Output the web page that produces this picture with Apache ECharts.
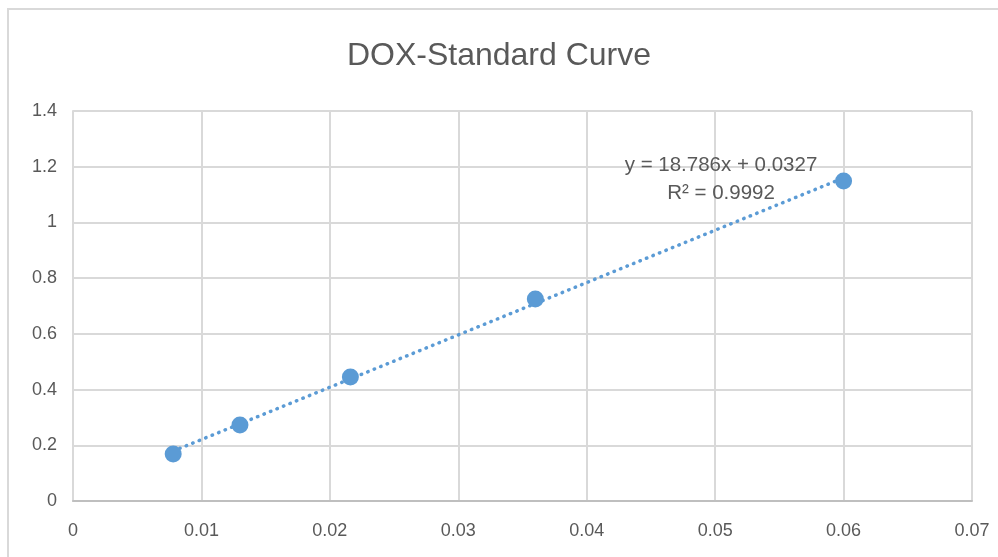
<!DOCTYPE html>
<html>
<head>
<meta charset="utf-8">
<script src="https://cdn.jsdelivr.net/npm/echarts@6/dist/echarts.min.js"></script>
<style>html,body{margin:0;padding:0;background:#fff;}#c{width:998px;height:557px;}</style>
</head>
<body>
<div id="c"></div>
<script>
var xValues = [0.0078, 0.013, 0.0216, 0.036, 0.06];
var yValues = [0.169, 0.273, 0.445, 0.725, 1.149];
var slope = 18.786;
var intercept = 0.0327;
var equationText = 'y = 18.786x + 0.0327';
var r2Text = 'R\u00B2 = 0.9992';
var xTicks = [0, 0.01, 0.02, 0.03, 0.04, 0.05, 0.06, 0.07];
var yTicks = [0, 0.2, 0.4, 0.6, 0.8, 1, 1.2, 1.4];

var points = xValues.map(function (x, i) { return [x, yValues[i]]; });
var xMin = Math.min.apply(null, xValues), xMax = Math.max.apply(null, xValues);
var trend = [[xMin, slope * xMin + intercept], [xMax, slope * xMax + intercept]];

var chart = echarts.init(document.getElementById('c'));
var font = "Liberation Sans, Arial, sans-serif";
chart.setOption({
  backgroundColor: '#fff',
  animation: false,
  title: {
    text: 'DOX-Standard Curve',
    left: 'center', top: 35,
    textStyle: { fontFamily: font, fontSize: 32, fontWeight: 'normal', color: '#595959' }
  },
  grid: { left: 73, right: 26, top: 111, bottom: 56 },
  xAxis: {
    type: 'value', min: 0, max: 0.07, interval: 0.01,
    axisLine: { show: true, lineStyle: { color: '#bfbfbf', width: 2 } },
    axisTick: { show: false },
    splitLine: { show: true, lineStyle: { color: '#d9d9d9', width: 2 } },
    axisLabel: { fontFamily: font, fontSize: 18, color: '#595959', margin: 21,
      formatter: function (v) { return String(+v.toFixed(2)); } }
  },
  yAxis: {
    type: 'value', min: 0, max: 1.4, interval: 0.2,
    axisLine: { show: true, lineStyle: { color: '#d9d9d9', width: 2 } },
    axisTick: { show: false },
    splitLine: { show: true, lineStyle: { color: '#d9d9d9', width: 2 } },
    axisLabel: { fontFamily: font, fontSize: 18, color: '#595959', margin: 16,
      formatter: function (v) { return String(+v.toFixed(1)); } }
  },
  graphic: [
    { type: 'rect', z: -10, silent: true, shape: { x: 8, y: 9, width: 1100, height: 700 },
      style: { fill: 'none', stroke: '#d9d9d9', lineWidth: 2 } },
    { type: 'text', z: 10, style: { x: 721, y: 165, text: equationText, fontFamily: font, fontSize: 20.5, fill: '#595959', textAlign: 'center', textVerticalAlign: 'middle' } },
    { type: 'text', z: 10, style: { x: 721, y: 193, text: r2Text, fontFamily: font, fontSize: 20.5, fill: '#595959', textAlign: 'center', textVerticalAlign: 'middle' } }
  ],
  series: [
    { type: 'line', data: trend, symbol: 'none', z: 2,
      lineStyle: { color: '#5B9BD5', width: 3.5, type: [0.5, 6.5], cap: 'round' } },
    { type: 'scatter', data: points, symbol: 'circle', symbolSize: 17, z: 3,
      itemStyle: { color: '#5B9BD5', opacity: 1 } }
  ]
});
</script>
</body>
</html>
